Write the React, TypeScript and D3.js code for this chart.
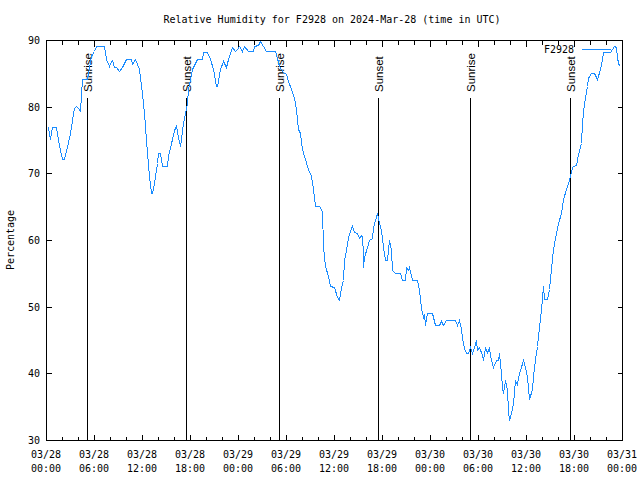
import React from "react";
import * as d3 from "d3";

const title = "Relative Humidity for F2928 on 2024-Mar-28 (time in UTC)";
const yLabel = "Percentage";
const seriesName = "F2928";
const startUtc = Date.UTC(2024, 2, 28, 0, 0);
const endUtc = Date.UTC(2024, 2, 31, 0, 0);
const yTicks = [30, 40, 50, 60, 70, 80, 90];

// hours since 2024-03-28 00:00 UTC
const hours = [
  0.13, 0.31, 0.5, 0.69, 1.19, 1.5, 1.75, 2.0, 2.31, 2.63, 3.0, 3.25, 3.5, 3.75, 4.0, 4.19, 4.5, 5.13, 5.59, 6.0,
  6.25, 7.25, 7.46, 7.88, 8.13, 8.29, 8.5, 8.75, 9.13, 9.5, 9.96, 10.59, 10.75, 11.09, 11.38, 11.63, 11.96, 12.19, 12.59, 12.91,
  13.13, 13.31, 13.44, 13.84, 14.06, 14.31, 14.54, 15.09, 15.29, 15.71, 16.0, 16.25, 16.5, 16.75, 17.16, 17.59, 17.79, 18.21, 18.84, 19.46,
  19.66, 20.09, 20.5, 20.91, 21.25, 21.38, 21.75, 22.16, 22.5, 22.79, 23.21, 23.63, 23.88, 24.16, 24.44, 24.79, 25.21, 25.84, 26.04, 26.46,
  26.75, 27.09, 27.5, 28.66, 28.84, 29.16, 29.59, 30.0, 30.21, 30.63, 31.04, 31.25, 31.46, 31.75, 32.0, 32.29, 32.71, 33.13, 33.41, 33.63,
  34.16, 34.5, 34.66, 34.91, 35.21, 35.54, 36.04, 36.34, 36.63, 36.88, 37.09, 37.29, 37.5, 37.79, 38.09, 38.25, 38.5, 38.84, 39.16, 39.34,
  39.46, 39.59, 39.66, 39.79, 40.09, 40.41, 40.71, 40.91, 41.13, 41.41, 41.59, 41.84, 42.09, 42.38, 42.59, 42.79, 42.91, 43.09, 43.29, 43.63,
  44.25, 44.46, 44.88, 45.0, 45.21, 45.41, 45.71, 46.41, 46.66, 46.88, 47.16, 47.25, 47.38, 47.66, 48.21, 48.63, 49.16, 49.38, 49.59, 49.96,
  51.13, 51.41, 51.66, 51.88, 52.04, 52.29, 52.46, 52.79, 53.0, 53.21, 53.5, 53.71, 53.91, 54.16, 54.46, 54.66, 54.88, 55.09, 55.38, 55.59,
  55.91, 56.25, 56.54, 56.66, 56.84, 57.04, 57.16, 57.38, 57.59, 57.79, 57.91, 58.13, 58.34, 58.63, 58.84, 59.04, 59.25, 59.66, 59.88, 60.09,
  60.29, 60.41, 60.71, 60.91, 61.13, 61.34, 61.54, 61.84, 62.09, 62.25, 62.66, 62.91, 63.13, 63.41, 63.75, 64.04, 64.34, 64.66, 65.0, 65.29,
  65.5, 65.71, 65.91, 66.25, 66.54, 66.84, 67.0, 67.25, 67.59, 67.79, 68.09, 68.5, 68.91, 69.25, 69.46, 69.66, 70.5, 70.71, 71.0, 71.21,
  71.41, 71.66,
];

const humidity = [
  77.0, 76.9, 75.2, 77.0, 77.0, 75.0, 73.5, 72.1, 72.1, 74.0, 76.0, 78.0, 79.8, 80.1, 79.8, 79.3, 84.1, 84.1, 87.6, 88.4,
  89.1, 89.1, 87.1, 86.1, 86.8, 87.0, 86.0, 85.9, 85.3, 86.0, 87.1, 87.1, 86.4, 87.1, 86.4, 85.6, 82.1, 79.0, 73.1, 69.6,
  67.1, 67.1, 68.6, 71.6, 73.1, 73.1, 71.1, 71.1, 72.6, 75.1, 76.5, 77.1, 75.5, 74.1, 77.6, 80.6, 82.6, 85.6, 87.1, 87.1,
  88.2, 88.2, 87.1, 85.6, 83.1, 83.1, 85.6, 86.9, 86.0, 87.1, 88.9, 88.4, 88.6, 89.1, 88.4, 89.1, 88.3, 88.3, 89.1, 89.2,
  89.85, 89.1, 88.3, 88.3, 87.3, 86.1, 85.2, 84.9, 83.9, 82.6, 81.3, 79.6, 76.6, 76.1, 73.6, 72.6, 70.6, 69.6, 67.6, 65.1,
  65.1, 64.35, 59.1, 56.1, 54.6, 53.1, 53.0, 51.5, 51.0, 53.0, 54.0, 57.0, 58.5, 60.5, 61.75, 62.1, 61.25, 61.0, 60.25, 60.75,
  60.5, 58.0, 56.0, 57.5, 59.0, 60.0, 60.25, 62.0, 63.0, 64.0, 62.5, 61.5, 59.0, 57.0, 57.0, 58.5, 60.0, 58.5, 55.5, 55.0,
  55.0, 54.0, 54.0, 56.0, 55.5, 56.0, 54.0, 54.0, 52.5, 49.75, 48.5, 48.9, 47.25, 49.0, 49.0, 47.25, 47.25, 47.9, 47.25, 48.0,
  48.0, 47.25, 48.0, 46.75, 45.25, 43.75, 43.1, 43.1, 44.0, 43.1, 44.0, 45.0, 43.5, 44.0, 42.75, 42.0, 43.75, 43.25, 43.75, 42.0,
  41.0, 42.0, 42.0, 43.0, 40.0, 38.0, 37.0, 39.0, 37.5, 34.5, 33.0, 34.0, 35.5, 39.0, 38.25, 39.5, 40.5, 42.0, 41.0, 39.5,
  38.0, 36.1, 37.6, 39.6, 42.1, 44.1, 45.6, 49.6, 53.1, 51.1, 51.1, 52.6, 55.6, 58.6, 61.1, 62.6, 64.1, 66.1, 67.6, 68.6,
  69.6, 70.9, 71.1, 71.3, 72.85, 74.6, 77.6, 80.6, 83.1, 84.35, 85.0, 85.0, 84.2, 85.6, 87.1, 88.2, 88.2, 88.7, 89.1, 88.9,
  87.35, 86.1,
];

const sunHours = [5.1, 17.5, 29.1, 41.5, 53.05, 65.5];
const sunLabels = ["Sunrise", "Sunset", "Sunrise", "Sunset", "Sunrise", "Sunset"];

const W = 640;
const H = 480;
const L = 46;
const R = 622;
const T = 40;
const B = 440;
const mono = "'DejaVu Sans Mono', monospace";
const lineColor = "#1a8cff";

export default function App() {
  const x = d3.scaleUtc().domain([new Date(startUtc), new Date(endUtc)]).range([L, R]);
  const y = d3.scaleLinear().domain([30, 90]).range([B, T]);
  const toDate = (h: number) => new Date(startUtc + h * 3600000);
  const points = hours.map((h, i) => [toDate(h), humidity[i]] as [Date, number]);
  const line = d3
    .line<[Date, number]>()
    .x((d) => Math.round(x(d[0])) + 0.5)
    .y((d) => Math.round(y(d[1])) + 0.5);
  const majors = d3.utcHour.every(6)!.range(new Date(startUtc), new Date(endUtc + 1));
  const minors = d3.utcHour.every(2)!.range(new Date(startUtc), new Date(endUtc + 1));
  const fDay = d3.utcFormat("%m/%d");
  const fTime = d3.utcFormat("%H:%M");
  const px = (v: number) => Math.round(v) + 0.5;

  return (
    <svg
      width={W}
      height={H}
      style={{ position: "absolute", left: 0, top: 0, background: "#fff" }}
    >
      <rect x={0} y={0} width={W} height={H} fill="#fff" />
      <text x={332} y={23} textAnchor="middle" fontFamily={mono} fontSize={10} fill="#000">
        {title}
      </text>
      {/* frame */}
      <rect
        x={px(L)}
        y={px(T)}
        width={Math.round(R) - Math.round(L)}
        height={Math.round(B) - Math.round(T)}
        fill="none"
        stroke="#000"
        strokeWidth={1}
        shapeRendering="crispEdges"
      />
      {/* y ticks */}
      {yTicks.map((v) => (
        <g key={"y" + v}>
          <line x1={px(L)} x2={px(L) + 5} y1={px(y(v))} y2={px(y(v))} stroke="#000" shapeRendering="crispEdges" />
          <line x1={px(R)} x2={px(R) - 5} y1={px(y(v))} y2={px(y(v))} stroke="#000" shapeRendering="crispEdges" />
          <text x={L - 6} y={y(v) + 4} textAnchor="end" fontFamily={mono} fontSize={10} fill="#000">
            {v}
          </text>
        </g>
      ))}
      {/* x minor ticks */}
      {minors.map((d, i) => (
        <g key={"m" + i}>
          <line x1={px(x(d))} x2={px(x(d))} y1={px(B)} y2={px(B) - 4} stroke="#000" shapeRendering="crispEdges" />
          <line x1={px(x(d))} x2={px(x(d))} y1={px(T)} y2={px(T) + 4} stroke="#000" shapeRendering="crispEdges" />
        </g>
      ))}
      {/* x major labels */}
      {majors.map((d, i) => (
        <g key={"M" + i}>
          <line x1={px(x(d))} x2={px(x(d))} y1={px(B)} y2={px(B) - 6} stroke="#000" shapeRendering="crispEdges" />
          <line x1={px(x(d))} x2={px(x(d))} y1={px(T)} y2={px(T) + 6} stroke="#000" shapeRendering="crispEdges" />
          <text x={x(d)} y={458} textAnchor="middle" fontFamily={mono} fontSize={10} fill="#000">
            {fDay(d)}
          </text>
          <text x={x(d)} y={472} textAnchor="middle" fontFamily={mono} fontSize={10} fill="#000">
            {fTime(d)}
          </text>
        </g>
      ))}
      <text
        transform={`translate(14,${(T + B) / 2}) rotate(-90)`}
        textAnchor="middle"
        fontFamily={mono}
        fontSize={10}
        fill="#000"
      >
        {yLabel}
      </text>
      {/* sunrise / sunset */}
      {sunHours.map((h, i) => {
        const xx = px(x(toDate(h)));
        return (
          <g key={"s" + i}>
            <line x1={xx} x2={xx} y1={98} y2={px(B)} stroke="#000" shapeRendering="crispEdges" />
            <text
              transform={`translate(${xx + 4},92) rotate(-90)`}
              textAnchor="start"
              fontFamily="'Liberation Sans', Arial, sans-serif"
              fontSize={11.5}
              fill="#000"
            >
              {sunLabels[i]}
            </text>
          </g>
        );
      })}
      {/* data line */}
      <path d={line(points) || ""} fill="none" stroke={lineColor} strokeWidth={1} shapeRendering="crispEdges" />
      {/* legend */}
      <text x={574} y={53} textAnchor="end" fontFamily={mono} fontSize={10} fill="#000">
        {seriesName}
      </text>
      <line x1={582} x2={611} y1={49.5} y2={49.5} stroke={lineColor} shapeRendering="crispEdges" />
    </svg>
  );
}
